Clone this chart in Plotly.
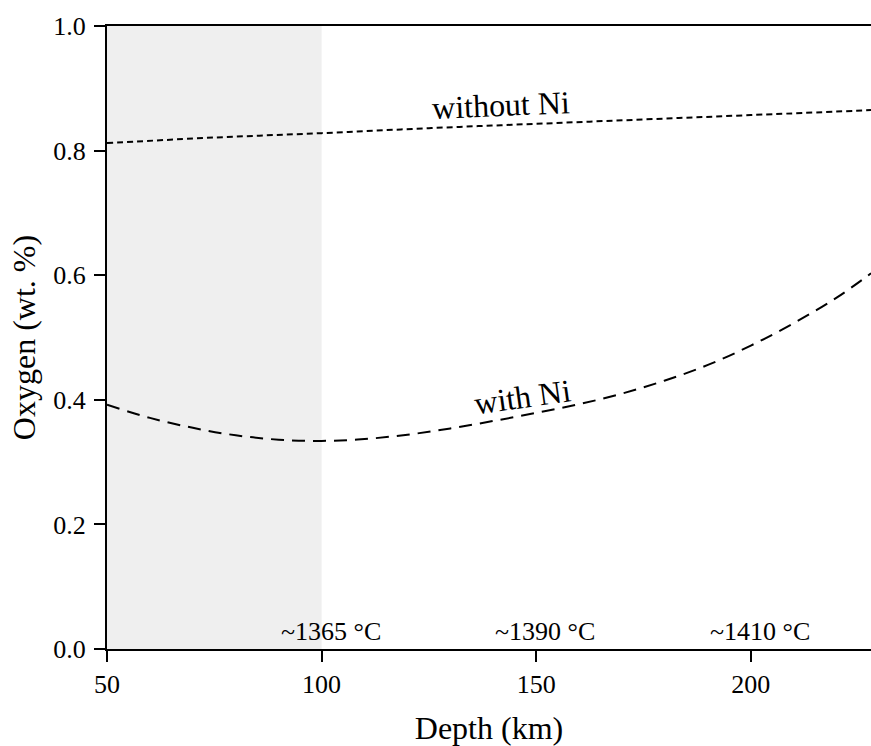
import plotly.graph_objects as go

# Depth grid (km) and oxygen content (wt. %) for the two compositions
depth_with_ni = [50, 60, 70, 80, 90, 100, 110, 120, 130, 140, 150,
                 160, 170, 180, 190, 200, 210, 220, 228]
oxygen_with_ni = [0.392, 0.371, 0.355, 0.343, 0.336, 0.334, 0.337, 0.344,
                  0.354, 0.366, 0.379, 0.393, 0.410, 0.431, 0.456, 0.487,
                  0.523, 0.564, 0.603]

depth_without_ni = [50, 75, 100, 125, 150, 175, 200, 228]
oxygen_without_ni = [0.812, 0.821, 0.828, 0.836, 0.843, 0.850, 0.857, 0.865]

# Temperature markers along the depth axis
temp_depths = [100, 150, 200]
temp_labels = ["~1365 °C", "~1390 °C", "~1410 °C"]

# Shaded depth interval
shade_range = [50, 100]

x_range = [50, 228]
y_ticks = [0.0, 0.2, 0.4, 0.6, 0.8, 1.0]
x_ticks = [50, 100, 150, 200]

FONT = "Liberation Serif, Times New Roman, serif"

fig = go.Figure()

fig.add_trace(go.Scatter(
    x=depth_without_ni, y=oxygen_without_ni, mode="lines",
    line=dict(color="black", width=2, dash="6px,4px", shape="spline"),
    showlegend=False, hoverinfo="skip",
))
fig.add_trace(go.Scatter(
    x=depth_with_ni, y=oxygen_with_ni, mode="lines",
    line=dict(color="black", width=2, dash="13px,8px", shape="spline"),
    showlegend=False, hoverinfo="skip",
))

fig.add_shape(type="rect", xref="x", yref="y",
              x0=shade_range[0], x1=shade_range[1], y0=0, y1=1,
              fillcolor="#efefef", line=dict(width=0), layer="below")

# Curve labels
fig.add_annotation(x=141.8, y=0.873, text="without Ni", showarrow=False,
                   textangle=-2.5, font=dict(size=32, family=FONT, color="black"),
                   xanchor="center", yanchor="middle")
fig.add_annotation(x=146.7, y=0.405, text="with Ni", showarrow=False,
                   textangle=-8, font=dict(size=32, family=FONT, color="black"),
                   xanchor="center", yanchor="middle")

for d, lab in zip(temp_depths, temp_labels):
    fig.add_annotation(x=d, y=0, text=lab, showarrow=False, xshift=9, yshift=1,
                       font=dict(size=26, family=FONT, color="black"),
                       xanchor="center", yanchor="bottom")

fig.update_layout(
    width=871, height=746,
    margin=dict(l=107, r=0, t=26, b=97),
    paper_bgcolor="white", plot_bgcolor="white",
    font=dict(family=FONT, color="black", size=26),
    showlegend=False,
)

fig.update_xaxes(
    range=x_range, tickvals=x_ticks, showgrid=False, zeroline=False,
    showline=True, linecolor="black", linewidth=2, mirror=True,
    ticks="outside", ticklen=11, tickwidth=2, tickcolor="black",
    automargin=False,
    tickfont=dict(size=26, family=FONT),
    title=dict(text="Depth (km)", font=dict(size=32, family=FONT), standoff=30),
)
fig.update_yaxes(
    range=[0, 1], tickvals=y_ticks, tickformat=".1f", showgrid=False,
    zeroline=False, showline=True, linecolor="black", linewidth=2,
    ticks="outside", ticklen=11, tickwidth=2, tickcolor="black",
    ticklabelstandoff=3, automargin=False,
    tickfont=dict(size=26, family=FONT),
    title=dict(text="Oxygen (wt. %)", font=dict(size=32, family=FONT), standoff=8),
)

fig.write_html("out.html")
